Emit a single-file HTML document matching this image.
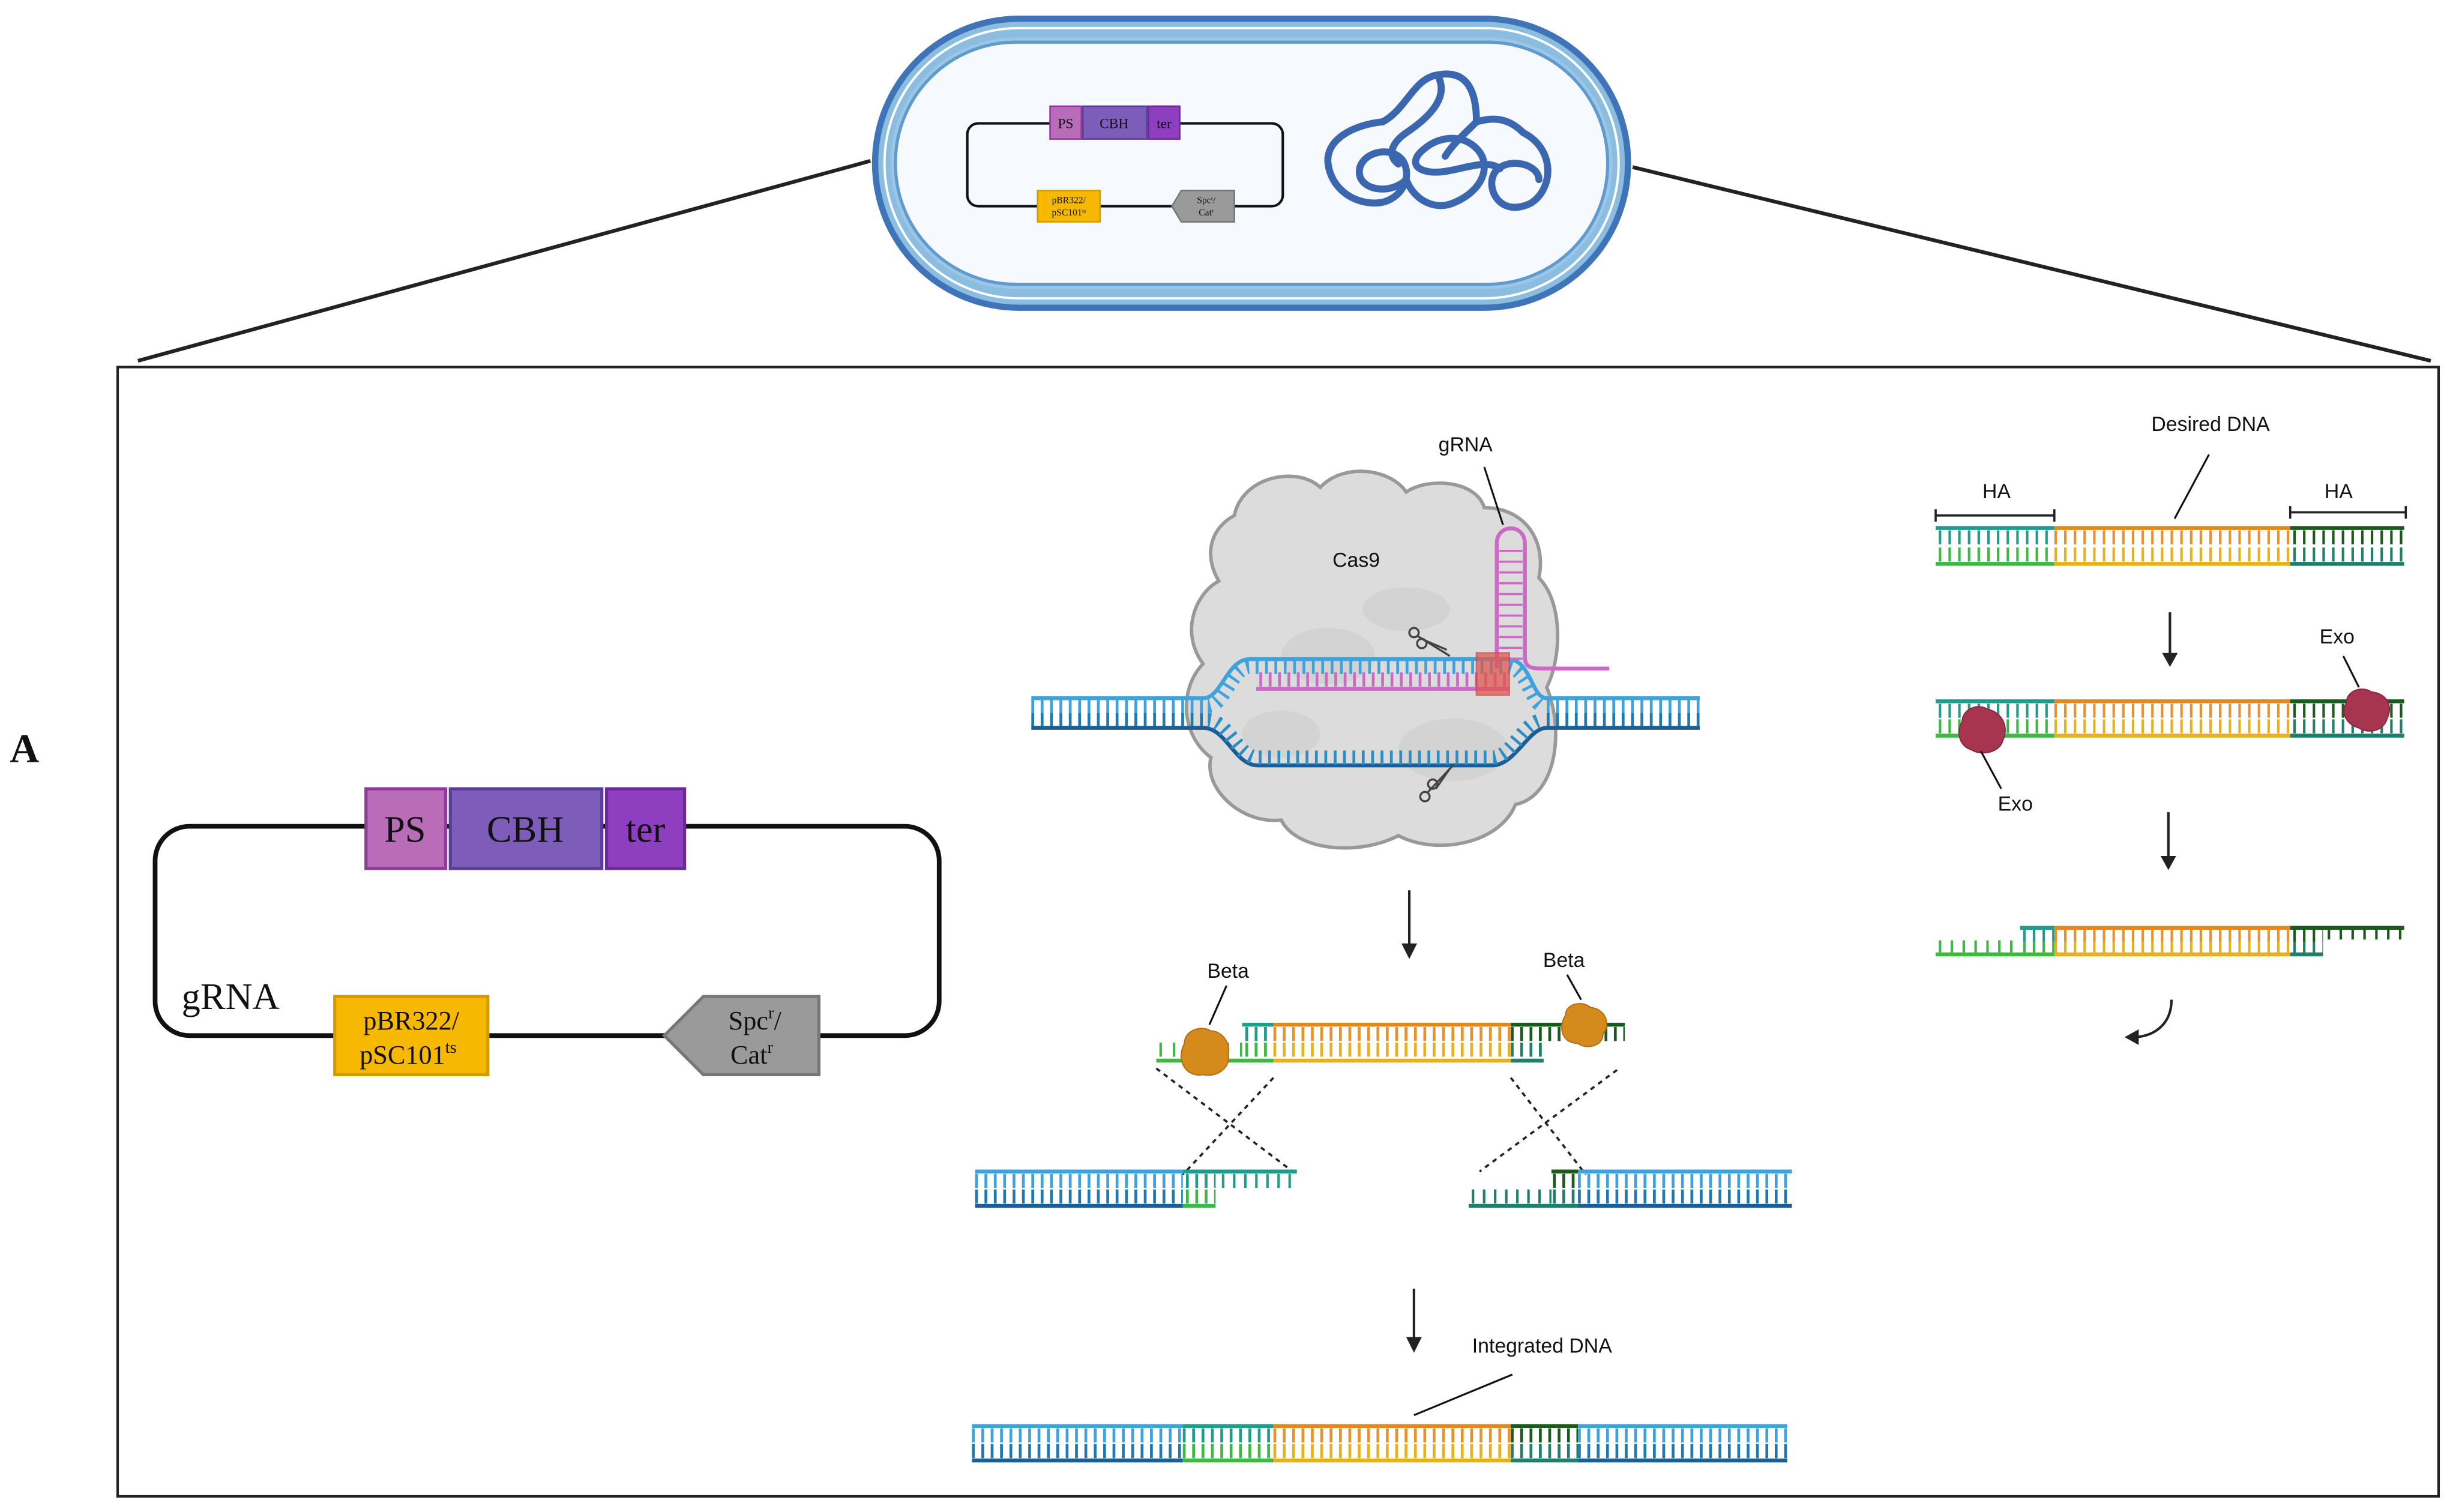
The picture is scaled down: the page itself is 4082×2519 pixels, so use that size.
<!DOCTYPE html>
<html><head><meta charset="utf-8"><style>html,body{margin:0;padding:0;background:#fff}svg{display:block}</style></head>
<body>
<svg width="4082" height="2519" viewBox="0 0 1568 968" xmlns="http://www.w3.org/2000/svg" font-family="Liberation Sans, sans-serif">
<rect width="1568" height="968" fill="#fff"/>
<line x1="557" y1="103" x2="88" y2="231" stroke="#222" stroke-width="2.4"/>
<line x1="1045" y1="107" x2="1556" y2="231" stroke="#222" stroke-width="2.4"/>
<rect x="558" y="10" width="486" height="189" rx="94" fill="#3f74b9"/>
<rect x="562" y="14" width="478" height="181" rx="90" fill="#8bbde0"/>
<rect x="566" y="18" width="470" height="173" rx="86" fill="none" stroke="#fff" stroke-width="1.5"/>
<rect x="570" y="24" width="462" height="161" rx="80" fill="#9cc6e6"/>
<rect x="573" y="27" width="456" height="155" rx="77" fill="#f6f9fd" stroke="#5f9bcf" stroke-width="2"/>
<rect x="619" y="79" width="202" height="53" rx="7" fill="none" stroke="#111" stroke-width="1.6"/>
<rect x="672" y="68" width="20" height="21" fill="#b96cb8" stroke="#8f3a9c"/>
<rect x="693" y="68" width="41" height="21" fill="#7d5cba" stroke="#5b3d99"/>
<rect x="735" y="68" width="20" height="21" fill="#8e3fc0" stroke="#6a2a99"/>
<g font-family="Liberation Serif, serif" font-size="9" text-anchor="middle" fill="#111">
<text x="682" y="82">PS</text><text x="713" y="82">CBH</text><text x="745" y="82">ter</text></g>
<rect x="664" y="122" width="40" height="20" fill="#f6b800" stroke="#d49a00"/>
<polygon points="750,132 756,122 790,122 790,142 756,142" fill="#9a9a9a" stroke="#777"/>
<g font-family="Liberation Serif, serif" font-size="6" text-anchor="middle" fill="#111">
<text x="684" y="130">pBR322/</text><text x="684" y="138">pSC101ᵗˢ</text>
<text x="772" y="130">Spcʳ/</text><text x="772" y="138">Catʳ</text></g>
<g fill="none" stroke="#3b67b0" stroke-width="4.5" stroke-linecap="round">
<path d="M885,78 C900,70 905,50 920,48 C940,44 945,60 945,78 C955,75 965,75 975,85 C995,95 995,120 980,130 C960,140 950,120 957,110 C965,100 985,105 985,115"/>
<path d="M885,78 C865,80 848,90 850,105 C852,120 865,130 880,130 C895,130 905,115 898,103 C890,92 870,98 870,110 C870,122 890,125 900,115"/>
<path d="M900,115 C905,128 918,135 930,130 C950,122 955,105 945,95 C935,85 920,88 912,95 C905,100 902,108 915,110 C930,112 950,100 960,108"/>
<path d="M920,48 C928,62 915,75 900,85 C890,92 888,100 895,105"/>
<path d="M945,78 C938,85 930,92 925,100"/>
</g>
<rect x="75" y="235" width="1486" height="723" fill="none" stroke="#222" stroke-width="1.6"/>
<text x="6" y="488" font-family="Liberation Serif, serif" font-weight="bold" font-size="26" fill="#111">A</text>
<rect x="99" y="529" width="502" height="134" rx="22" fill="none" stroke="#111" stroke-width="3"/>
<rect x="234" y="505" width="51" height="51" fill="#b96cb8" stroke="#8f3a9c" stroke-width="2"/>
<rect x="288" y="505" width="97" height="51" fill="#7d5cba" stroke="#5b3d99" stroke-width="2"/>
<rect x="388" y="505" width="50" height="51" fill="#8e3fc0" stroke="#6a2a99" stroke-width="2"/>
<g font-family="Liberation Serif, serif" font-size="24" text-anchor="middle" fill="#111">
<text x="259" y="539">PS</text><text x="336" y="539">CBH</text><text x="413" y="539">ter</text></g>
<text x="116" y="646" font-family="Liberation Serif, serif" font-size="24" fill="#111">gRNA</text>
<rect x="214" y="638" width="98" height="50" fill="#f6b800" stroke="#d49a00" stroke-width="2"/>
<polygon points="425,663 450,638 524,638 524,688 450,688" fill="#9a9a9a" stroke="#777" stroke-width="2"/>
<g font-family="Liberation Serif, serif" font-size="17" text-anchor="middle" fill="#111">
<text x="263" y="659">pBR322/</text><text x="261" y="681">pSC101<tspan font-size="11" dy="-7">ts</tspan></text>
<text x="483" y="659">Spc<tspan font-size="11" dy="-7">r</tspan><tspan dy="7">/</tspan></text><text x="481" y="681">Cat<tspan font-size="11" dy="-7">r</tspan></text></g>
<path d="M790,330 C795,305 830,298 845,312 C860,296 890,300 900,315 C915,305 945,308 950,325 C975,325 990,345 985,370 C1000,385 1000,420 990,440 C1002,470 995,510 970,515 C960,540 920,548 895,535 C870,548 830,545 820,525 C795,528 770,505 775,485 C755,470 755,440 770,425 C755,405 765,380 780,372 C770,355 775,338 790,330 Z" fill="#dcdcdc" stroke="#999" stroke-width="2.2"/>
<g fill="#cfcfcf" opacity="0.7">
<ellipse cx="850" cy="420" rx="30" ry="18"/><ellipse cx="930" cy="480" rx="35" ry="20"/><ellipse cx="820" cy="470" rx="25" ry="15"/><ellipse cx="900" cy="390" rx="28" ry="14"/></g>
<text x="868" y="363" font-size="13" text-anchor="middle" fill="#111">Cas9</text>
<text x="938" y="289" font-size="13" text-anchor="middle" fill="#111">gRNA</text>
<line x1="950" y1="299" x2="962" y2="336" stroke="#111" stroke-width="1.2"/>
<g fill="none">
<line x1="660" y1="447" x2="770" y2="447" stroke="#3ea3dd" stroke-width="2.5"/>
<line x1="660" y1="452" x2="770" y2="452" stroke="#3ea3dd" stroke-width="10" stroke-dasharray="1.8 4.2"/>
<line x1="660" y1="461" x2="770" y2="461" stroke="#1c79b3" stroke-width="9" stroke-dasharray="1.8 4.2"/>
<line x1="660" y1="466" x2="770" y2="466" stroke="#1b5e96" stroke-width="2.5"/>
<line x1="990" y1="447" x2="1088" y2="447" stroke="#3ea3dd" stroke-width="2.5"/>
<line x1="990" y1="452" x2="1088" y2="452" stroke="#3ea3dd" stroke-width="10" stroke-dasharray="1.8 4.2"/>
<line x1="990" y1="461" x2="1088" y2="461" stroke="#1c79b3" stroke-width="9" stroke-dasharray="1.8 4.2"/>
<line x1="990" y1="466" x2="1088" y2="466" stroke="#1b5e96" stroke-width="2.5"/>
<path d="M770,447 C782,447 785,422 800,422 L965,422 C980,422 980,447 990,447" stroke="#3ea3dd" stroke-width="2.5"/>
<path d="M773,452 C784,452 788,427 800,427 L964,427 C978,427 980,452 988,452" stroke="#3ea3dd" stroke-width="9" stroke-dasharray="1.8 4.2"/>
<path d="M770,466 C785,466 790,490 805,490 L955,490 C970,490 978,466 990,466" stroke="#1b5e96" stroke-width="2.5"/>
<path d="M773,461 C786,461 792,485 805,485 L955,485 C968,485 975,461 988,461" stroke="#2a8ec4" stroke-width="9" stroke-dasharray="1.8 4.2"/>
<line x1="804" y1="441" x2="966" y2="441" stroke="#c96bc4" stroke-width="2.5"/>
<line x1="806" y1="435" x2="966" y2="435" stroke="#c96bc4" stroke-width="9" stroke-dasharray="1.8 4.2"/>
<path d="M958,428 L958,348 C958,335 976,335 976,348 L976,420 C976,428 980,428 990,428 L1030,428" stroke="#c96bc4" stroke-width="2.5"/>
<line x1="967" y1="352" x2="967" y2="425" stroke="#c96bc4" stroke-width="15" stroke-dasharray="1.4 5.5"/>
</g>
<rect x="945" y="418" width="21" height="27" fill="#e0584e" opacity="0.75" stroke="#c44"/>
<g stroke="#444" stroke-width="1.3" fill="none"><circle cx="905" cy="405" r="3"/><circle cx="910" cy="412" r="3"/><path d="M907,407 L928,420 M912,410 L926,416"/>
<circle cx="912" cy="510" r="3"/><circle cx="917" cy="502" r="3"/><path d="M914,507 L930,490 M919,505 L928,492"/></g>
<g stroke="#222" stroke-width="1.6"><line x1="902" y1="570" x2="902" y2="606"/><line x1="905" y1="825" x2="905" y2="858"/><line x1="1389" y1="392" x2="1389" y2="420"/><line x1="1388" y1="520" x2="1388" y2="550"/></g>
<g fill="#222"><polygon points="897,604 907,604 902,614"/><polygon points="900,856 910,856 905,866"/><polygon points="1384,418 1394,418 1389,427"/><polygon points="1383,548 1393,548 1388,557"/></g>
<path d="M1390,640 C1390,655 1380,663 1367,664" fill="none" stroke="#222" stroke-width="1.6"/>
<polygon points="1360,664 1369,659 1369,669" fill="#222"/>
<g fill="none">
<line x1="795" y1="656" x2="815" y2="656" stroke="#1f9c8a" stroke-width="2.5"/>
<line x1="815" y1="656" x2="967" y2="656" stroke="#e0891c" stroke-width="2.5"/>
<line x1="967" y1="656" x2="1040" y2="656" stroke="#1b5a1d" stroke-width="2.5"/>
<line x1="797" y1="662" x2="815" y2="662" stroke="#1f9c8a" stroke-width="9" stroke-dasharray="1.8 4.2"/>
<line x1="815" y1="662" x2="967" y2="662" stroke="#e8932a" stroke-width="9" stroke-dasharray="1.8 4.2"/>
<line x1="967" y1="662" x2="1040" y2="662" stroke="#1b5a1d" stroke-width="9" stroke-dasharray="1.8 4.2"/>
<line x1="797" y1="672" x2="815" y2="672" stroke="#3cb943" stroke-width="9" stroke-dasharray="1.8 4.2"/>
<line x1="742" y1="672" x2="795" y2="672" stroke="#3cb943" stroke-width="9" stroke-dasharray="1.6 7"/>
<line x1="815" y1="672" x2="967" y2="672" stroke="#e9b01e" stroke-width="9" stroke-dasharray="1.8 4.2"/>
<line x1="967" y1="672" x2="988" y2="672" stroke="#1f7f6a" stroke-width="9" stroke-dasharray="1.8 4.2"/>
<line x1="740" y1="679" x2="815" y2="679" stroke="#3cb943" stroke-width="2.5"/>
<line x1="815" y1="679" x2="967" y2="679" stroke="#e9b01e" stroke-width="2.5"/>
<line x1="967" y1="679" x2="988" y2="679" stroke="#1f7f6a" stroke-width="2.5"/>
</g>
<g fill="#d58a1c" stroke="#b86f10" stroke-width="0.8">
<path d="M758,668 C758,660 768,656 775,660 C782,660 788,668 786,675 C788,684 778,690 770,688 C760,690 752,680 758,668 Z"/>
<path d="M1002,650 C1002,643 1012,640 1018,645 C1028,646 1031,656 1026,662 C1026,670 1015,672 1010,668 C1000,668 997,658 1002,650 Z"/></g>
<text x="786" y="626" font-size="13" text-anchor="middle" fill="#111">Beta</text>
<text x="1001" y="619" font-size="13" text-anchor="middle" fill="#111">Beta</text>
<g stroke="#111" stroke-width="1.2"><line x1="785" y1="631" x2="774" y2="656"/><line x1="1003" y1="624" x2="1012" y2="640"/>
<line x1="905" y1="906" x2="968" y2="880"/></g>
<g stroke="#222" stroke-width="1.4" stroke-dasharray="3 3" fill="none">
<line x1="740" y1="684" x2="830" y2="752"/><line x1="815" y1="690" x2="757" y2="752"/>
<line x1="967" y1="690" x2="1015" y2="752"/><line x1="1035" y1="685" x2="947" y2="750"/></g>
<g fill="none">
<line x1="624" y1="750" x2="757" y2="750" stroke="#3ea3dd" stroke-width="2.5"/>
<line x1="624" y1="756" x2="757" y2="756" stroke="#3ea3dd" stroke-width="9" stroke-dasharray="1.8 4.2"/>
<line x1="624" y1="766" x2="757" y2="766" stroke="#1c79b3" stroke-width="9" stroke-dasharray="1.8 4.2"/>
<line x1="624" y1="772" x2="757" y2="772" stroke="#1b5e96" stroke-width="2.5"/>
<line x1="757" y1="750" x2="830" y2="750" stroke="#1f9c8a" stroke-width="2.5"/>
<line x1="759" y1="756" x2="778" y2="756" stroke="#1f9c8a" stroke-width="9" stroke-dasharray="1.8 4.2"/>
<line x1="782" y1="756" x2="830" y2="756" stroke="#1f9c8a" stroke-width="9" stroke-dasharray="1.6 5.5"/>
<line x1="759" y1="766" x2="778" y2="766" stroke="#3cb943" stroke-width="9" stroke-dasharray="1.8 4.2"/>
<line x1="757" y1="772" x2="778" y2="772" stroke="#3cb943" stroke-width="2.5"/>
<line x1="1010" y1="750" x2="1147" y2="750" stroke="#3ea3dd" stroke-width="2.5"/>
<line x1="1010" y1="756" x2="1147" y2="756" stroke="#3ea3dd" stroke-width="9" stroke-dasharray="1.8 4.2"/>
<line x1="1010" y1="766" x2="1147" y2="766" stroke="#1c79b3" stroke-width="9" stroke-dasharray="1.8 4.2"/>
<line x1="1010" y1="772" x2="1147" y2="772" stroke="#1b5e96" stroke-width="2.5"/>
<line x1="993" y1="750" x2="1010" y2="750" stroke="#1b5a1d" stroke-width="2.5"/>
<line x1="994" y1="756" x2="1010" y2="756" stroke="#1b5a1d" stroke-width="9" stroke-dasharray="1.8 4.2"/>
<line x1="994" y1="766" x2="1010" y2="766" stroke="#1f7f6a" stroke-width="9" stroke-dasharray="1.8 4.2"/>
<line x1="942" y1="766" x2="993" y2="766" stroke="#1f7f6a" stroke-width="9" stroke-dasharray="1.6 5.5"/>
<line x1="940" y1="772" x2="1010" y2="772" stroke="#1f7f6a" stroke-width="2.5"/>
</g>
<text x="987" y="866" font-size="13" text-anchor="middle" fill="#111">Integrated DNA</text>
<g fill="none">
<line x1="622" y1="913" x2="757" y2="913" stroke="#3ea3dd" stroke-width="2.5"/><line x1="757" y1="913" x2="815" y2="913" stroke="#1f9c8a" stroke-width="2.5"/><line x1="815" y1="913" x2="967" y2="913" stroke="#e0891c" stroke-width="2.5"/><line x1="967" y1="913" x2="1010" y2="913" stroke="#1b5a1d" stroke-width="2.5"/><line x1="1010" y1="913" x2="1144" y2="913" stroke="#3ea3dd" stroke-width="2.5"/>
<line x1="622" y1="919" x2="757" y2="919" stroke="#3ea3dd" stroke-width="9" stroke-dasharray="1.8 4.2"/><line x1="757" y1="919" x2="815" y2="919" stroke="#1f9c8a" stroke-width="9" stroke-dasharray="1.8 4.2"/><line x1="815" y1="919" x2="967" y2="919" stroke="#e8932a" stroke-width="9" stroke-dasharray="1.8 4.2"/><line x1="967" y1="919" x2="1010" y2="919" stroke="#1b5a1d" stroke-width="9" stroke-dasharray="1.8 4.2"/><line x1="1010" y1="919" x2="1144" y2="919" stroke="#3ea3dd" stroke-width="9" stroke-dasharray="1.8 4.2"/>
<line x1="622" y1="929" x2="757" y2="929" stroke="#1c79b3" stroke-width="9" stroke-dasharray="1.8 4.2"/><line x1="757" y1="929" x2="815" y2="929" stroke="#3cb943" stroke-width="9" stroke-dasharray="1.8 4.2"/><line x1="815" y1="929" x2="967" y2="929" stroke="#e9b01e" stroke-width="9" stroke-dasharray="1.8 4.2"/><line x1="967" y1="929" x2="1010" y2="929" stroke="#1f7f6a" stroke-width="9" stroke-dasharray="1.8 4.2"/><line x1="1010" y1="929" x2="1144" y2="929" stroke="#1c79b3" stroke-width="9" stroke-dasharray="1.8 4.2"/>
<line x1="622" y1="935" x2="757" y2="935" stroke="#1b5e96" stroke-width="2.5"/><line x1="757" y1="935" x2="815" y2="935" stroke="#3cb943" stroke-width="2.5"/><line x1="815" y1="935" x2="967" y2="935" stroke="#e9b01e" stroke-width="2.5"/><line x1="967" y1="935" x2="1010" y2="935" stroke="#1f7f6a" stroke-width="2.5"/><line x1="1010" y1="935" x2="1144" y2="935" stroke="#1b5e96" stroke-width="2.5"/>
</g>
<text x="1415" y="276" font-size="13" text-anchor="middle" fill="#111">Desired DNA</text>
<line x1="1392" y1="332" x2="1414" y2="291" stroke="#111" stroke-width="1.2"/>
<text x="1278" y="319" font-size="13" text-anchor="middle" fill="#111">HA</text>
<text x="1497" y="319" font-size="13" text-anchor="middle" fill="#111">HA</text>
<g stroke="#222" stroke-width="1.4"><line x1="1239" y1="330" x2="1315" y2="330"/><line x1="1239" y1="326" x2="1239" y2="334"/><line x1="1315" y1="326" x2="1315" y2="334"/>
<line x1="1466" y1="328" x2="1540" y2="328"/><line x1="1466" y1="324" x2="1466" y2="332"/><line x1="1540" y1="324" x2="1540" y2="332"/></g>
<g fill="none">
<line x1="1239" y1="338" x2="1315" y2="338" stroke="#1f9c8a" stroke-width="2.5"/><line x1="1315" y1="338" x2="1466" y2="338" stroke="#e0891c" stroke-width="2.5"/><line x1="1466" y1="338" x2="1539" y2="338" stroke="#1b5a1d" stroke-width="2.5"/>
<line x1="1241" y1="344" x2="1315" y2="344" stroke="#1f9c8a" stroke-width="9" stroke-dasharray="1.6 4.6"/><line x1="1315" y1="344" x2="1466" y2="344" stroke="#e8932a" stroke-width="9" stroke-dasharray="1.6 4.6"/><line x1="1468" y1="344" x2="1539" y2="344" stroke="#1b5a1d" stroke-width="9" stroke-dasharray="1.6 4.6"/>
<line x1="1241" y1="355" x2="1315" y2="355" stroke="#3cb943" stroke-width="9" stroke-dasharray="1.6 4.6"/><line x1="1315" y1="355" x2="1466" y2="355" stroke="#e9b01e" stroke-width="9" stroke-dasharray="1.6 4.6"/><line x1="1468" y1="355" x2="1539" y2="355" stroke="#1f7f6a" stroke-width="9" stroke-dasharray="1.6 4.6"/>
<line x1="1239" y1="361" x2="1315" y2="361" stroke="#3cb943" stroke-width="2.5"/><line x1="1315" y1="361" x2="1466" y2="361" stroke="#e9b01e" stroke-width="2.5"/><line x1="1466" y1="361" x2="1539" y2="361" stroke="#1f7f6a" stroke-width="2.5"/>
<line x1="1239" y1="449" x2="1315" y2="449" stroke="#1f9c8a" stroke-width="2.5"/><line x1="1315" y1="449" x2="1466" y2="449" stroke="#e0891c" stroke-width="2.5"/><line x1="1466" y1="449" x2="1539" y2="449" stroke="#1b5a1d" stroke-width="2.5"/>
<line x1="1241" y1="455" x2="1315" y2="455" stroke="#1f9c8a" stroke-width="9" stroke-dasharray="1.6 4.6"/><line x1="1315" y1="455" x2="1466" y2="455" stroke="#e8932a" stroke-width="9" stroke-dasharray="1.6 4.6"/><line x1="1468" y1="455" x2="1539" y2="455" stroke="#1b5a1d" stroke-width="9" stroke-dasharray="1.6 4.6"/>
<line x1="1241" y1="465" x2="1315" y2="465" stroke="#3cb943" stroke-width="9" stroke-dasharray="1.6 4.6"/><line x1="1315" y1="465" x2="1466" y2="465" stroke="#e9b01e" stroke-width="9" stroke-dasharray="1.6 4.6"/><line x1="1468" y1="465" x2="1539" y2="465" stroke="#1f7f6a" stroke-width="9" stroke-dasharray="1.6 4.6"/>
<line x1="1239" y1="471" x2="1315" y2="471" stroke="#3cb943" stroke-width="2.5"/><line x1="1315" y1="471" x2="1466" y2="471" stroke="#e9b01e" stroke-width="2.5"/><line x1="1466" y1="471" x2="1539" y2="471" stroke="#1f7f6a" stroke-width="2.5"/>
<line x1="1293" y1="594" x2="1315" y2="594" stroke="#1f9c8a" stroke-width="2.5"/><line x1="1315" y1="594" x2="1466" y2="594" stroke="#e0891c" stroke-width="2.5"/><line x1="1466" y1="594" x2="1539" y2="594" stroke="#1b5a1d" stroke-width="2.5"/>
<line x1="1295" y1="599" x2="1315" y2="599" stroke="#1f9c8a" stroke-width="8" stroke-dasharray="1.6 4.6"/><line x1="1315" y1="599" x2="1466" y2="599" stroke="#e8932a" stroke-width="8" stroke-dasharray="1.6 4.6"/><line x1="1468" y1="599" x2="1487" y2="599" stroke="#1b5a1d" stroke-width="8" stroke-dasharray="1.6 4.6"/>
<line x1="1490" y1="598" x2="1539" y2="598" stroke="#1b5a1d" stroke-width="7" stroke-dasharray="1.6 6"/>
<line x1="1295" y1="607" x2="1315" y2="607" stroke="#3cb943" stroke-width="8" stroke-dasharray="1.6 4.6"/><line x1="1315" y1="607" x2="1466" y2="607" stroke="#e9b01e" stroke-width="8" stroke-dasharray="1.6 4.6"/><line x1="1468" y1="607" x2="1487" y2="607" stroke="#1f7f6a" stroke-width="8" stroke-dasharray="1.6 4.6"/>
<line x1="1241" y1="606" x2="1293" y2="606" stroke="#3cb943" stroke-width="8" stroke-dasharray="1.6 6"/>
<line x1="1239" y1="611" x2="1315" y2="611" stroke="#3cb943" stroke-width="2.5"/><line x1="1315" y1="611" x2="1466" y2="611" stroke="#e9b01e" stroke-width="2.5"/><line x1="1466" y1="611" x2="1487" y2="611" stroke="#1f7f6a" stroke-width="2.5"/>
</g>
<g fill="#a8354f" stroke="#8a2840" stroke-width="0.8">
<path d="M1256,462 C1256,454 1266,450 1272,454 C1282,456 1286,466 1282,474 C1280,482 1268,484 1262,480 C1254,478 1252,468 1256,462 Z"/>
<path d="M1502,450 C1502,442 1512,439 1518,443 C1528,444 1532,452 1528,460 C1526,468 1516,470 1510,466 C1502,464 1498,456 1502,450 Z"/></g>
<text x="1290" y="519" font-size="13" text-anchor="middle" fill="#111">Exo</text>
<text x="1496" y="412" font-size="13" text-anchor="middle" fill="#111">Exo</text>
<g stroke="#111" stroke-width="1.2"><line x1="1268" y1="481" x2="1281" y2="505"/><line x1="1500" y1="420" x2="1510" y2="440"/></g>
</svg>
</body></html>
